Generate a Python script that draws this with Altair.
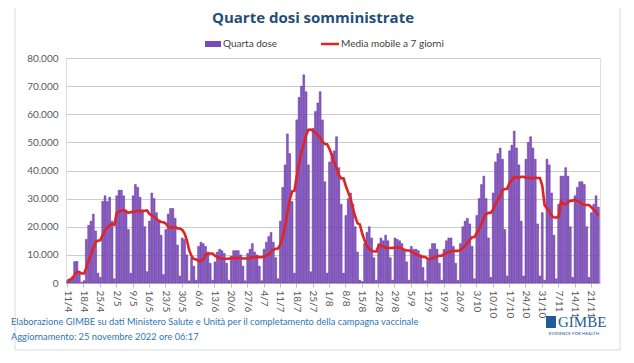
import altair as alt
import pandas as pd

# Daily fourth doses, 11/4/2022 .. 24/11/2022 (week by week Mon..Sun)
w_apr = [800, 1500, 2200, 7600, 7700, 3500, 300,
         800, 15500, 20500, 22000, 24500, 18500, 3500,
         2000, 29000, 31000, 29000, 30500, 22000, 1500]
w_may = [31000, 33000, 33000, 31000, 26000, 19000, 3500,
         31000, 35000, 34000, 30500, 26000, 20000, 4000,
         22000, 32000, 30000, 25000, 22000, 17000, 3000,
         19000, 24500, 26500, 26500, 23000, 13500, 2500,
         16000, 15500, 10000, 800, 9000, 6000, 1000]
w_jun = [13000, 14500, 14000, 13000, 11000, 7000, 1000,
         7500, 11000, 12000, 11500, 10500, 7000, 1000,
         9500, 11500, 11500, 11500, 10000, 6000, 800,
         10500, 12000, 14000, 11000, 10000, 6000, 800]
w_jul = [12000, 14500, 16500, 18000, 14500, 9000, 1500,
         22000, 34000, 42000, 53000, 46000, 29000, 3500,
         58000, 66000, 70000, 74000, 68000, 42000, 4000,
         55000, 61000, 64000, 68000, 58000, 36000, 3500]
w_aug = [43000, 46000, 47000, 52000, 41000, 28000, 3500,
         24000, 30000, 32000, 28000, 20000, 11000, 1000,
         500, 14000, 18000, 20000, 16000, 9000, 1000,
         14000, 16000, 15000, 17000, 15000, 9000, 1000,
         16000, 15500, 15000, 14000, 12000, 7500, 1000]
w_sep = [13000, 12000, 12000, 11500, 10000, 5500, 800,
         8000, 12000, 14000, 14000, 12000, 7000, 1000,
         12000, 15000, 16000, 16000, 13000, 7000, 900,
         14000, 20000, 22000, 23000, 21000, 13000, 1500]
w_oct = [24000, 30000, 35000, 38000, 30000, 16000, 2000,
         32000, 43000, 46000, 48000, 44000, 19000, 2500,
         47000, 49000, 54000, 48000, 42000, 22000, 2500,
         44000, 50000, 52000, 48000, 44000, 21000, 2500]
w_nov = [25000, 1000, 44000, 42000, 32000, 17000, 1500,
         28000, 38000, 38000, 41000, 38000, 20000, 2000,
         31000, 34000, 36000, 36000, 35000, 20000, 2000,
         25000, 28000, 31000, 27000]

quarta_dose = w_apr + w_may + w_jun + w_jul + w_aug + w_sep + w_oct + w_nov
dates = pd.date_range("2022-04-11", periods=len(quarta_dose), freq="D")
giorni = [f"{d.day}/{d.month}" for d in dates]
tick_labels = giorni[::7]
y_ticks = [0, 10000, 20000, 30000, 40000, 50000, 60000, 70000, 80000]

df = pd.DataFrame({"giorno": giorni, "idx": list(range(len(giorni))), "dosi": quarta_dose})

FONT = "Liberation Sans Narrow, Lato, sans-serif"
W, H = 534, 225
OX, OY = 66, 58  # plot origin in page coords


def px(x):
    return x - OX


def py(y):
    return y - OY


x_enc = alt.X(
    "giorno:O",
    sort=giorni,
    scale=alt.Scale(paddingInner=0.22, paddingOuter=0.3),
    axis=alt.Axis(
        values=tick_labels, labelAngle=90, title=None, labelFontSize=10,
        labelColor="#595959", labelFont=FONT, domainColor="#BFBFBF",
        tickColor="#BFBFBF", tickSize=4, labelPadding=3, grid=False,
    ),
)

y_axis = alt.Axis(
    values=y_ticks, title=None, domain=False, ticks=False, grid=True,
    gridColor="#CCCCCC", gridWidth=1, labelColor="#595959", labelFontSize=10,
    labelFont=FONT, labelPadding=8, labelOverlap=False,
    labelExpr="replace(format(datum.value, ','), ',', '.')",
)
y_scale = alt.Scale(domain=[0, 80000], nice=False)

base = alt.Chart(df)

bars = base.mark_bar(color="#8A5CC4", stroke="#5E2E9E", strokeWidth=0.5).encode(
    x=x_enc,
    y=alt.Y("dosi:Q", scale=y_scale, axis=y_axis),
)

line = base.transform_window(
    media="mean(dosi)", frame=[-6, 0], sort=[alt.SortField("idx")]
).mark_line(color="#E02424", strokeWidth=2.6).encode(
    x=x_enc, y=alt.Y("media:Q", scale=y_scale, axis=y_axis)
)

one = pd.DataFrame({"k": [0]})


def text(t, x, y, size=10, color="#404040", align="left", weight="normal", font=FONT):
    return alt.Chart(pd.DataFrame({"t": [t]})).mark_text(
        align=align, baseline="middle", fontSize=size, color=color,
        fontWeight=weight, font=font,
    ).encode(text="t:N", x=alt.value(px(x)), y=alt.value(py(y)))


frame = alt.Chart(one).mark_rect(
    filled=False, fillOpacity=0, stroke="#DADADA", strokeWidth=1
).encode(
    x=alt.value(px(15)), x2=alt.value(px(620)), y=alt.value(py(5)), y2=alt.value(py(350))
)

title = text("Quarte dosi somministrate", 313, 18, size=15, color="#1F4E79",
             align="center", weight="bold", font="Open Sans, sans-serif")

leg_box = alt.Chart(one).mark_rect(color="#7A4BB8").encode(
    x=alt.value(px(205)), x2=alt.value(px(221)), y=alt.value(py(41)), y2=alt.value(py(47))
)
leg_t1 = text("Quarta dose", 223, 44, size=10)
leg_line = alt.Chart(one).mark_rule(color="#E02424", strokeWidth=2.5).encode(
    x=alt.value(px(321)), x2=alt.value(px(339)), y=alt.value(py(44))
)
leg_t2 = text("Media mobile a 7 giorni", 341, 44, size=10)

foot1 = text("Elaborazione GIMBE su dati Ministero Salute e Unità per il completamento della campagna vaccinale",
             11, 322, size=9.3, color="#2E75B6")
foot2 = text("Aggiornamento: 25 novembre 2022 ore 06:17", 11, 337, size=9.3, color="#2E75B6")

logo_box = alt.Chart(one).mark_rect(color="#1F5C99").encode(
    x=alt.value(px(546)), x2=alt.value(px(556)), y=alt.value(py(316)), y2=alt.value(py(328))
)
logo = text("GIMBE", 558, 322, size=15, color="#1F5C99", font="Liberation Serif, serif")
logo_sub = text("EVIDENCE FOR HEALTH", 574, 334, size=4.5, color="#1F5C99", align="center")

chart = alt.layer(
    bars, line, frame, title, leg_box, leg_t1, leg_line, leg_t2,
    foot1, foot2, logo_box, logo, logo_sub,
).properties(
    width=W, height=H,
    padding={"left": OX - 8, "top": OY - 8, "right": 634 - 16 - (OX - 8) - W, "bottom": 347 - (OY - 8) - H},
    autosize=alt.AutoSizeParams(type="none"),
).configure_view(stroke=None).configure(background="white")

chart.save("out.html", embed_options={"renderer": "svg", "actions": False})
